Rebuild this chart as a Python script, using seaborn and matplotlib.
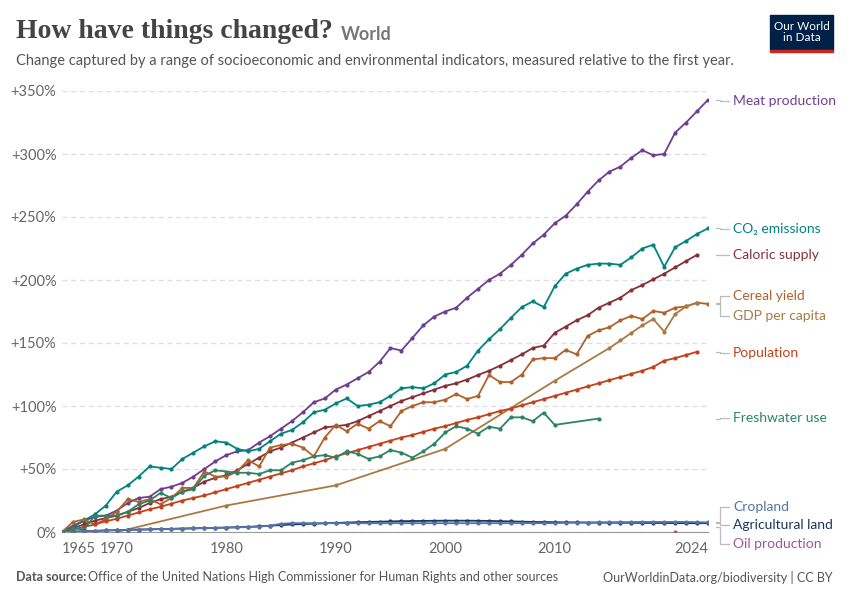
import numpy as np
import pandas as pd
import matplotlib.pyplot as plt
import seaborn as sns

# values (% change since first year)
meat_years = list(range(1965, 2025))
meat = [0, 5, 9, 12, 13, 17, 23, 27, 28, 34, 36, 39, 44, 50, 56, 61, 64, 65, 71, 76,
        82, 88, 95, 103, 106, 113, 117, 122, 127, 135, 146, 144, 154, 164, 171, 175, 178, 186, 193, 200,
        205, 212, 220, 229, 236, 245, 251, 260, 270, 279, 286, 290, 297, 303, 299, 300, 317, 325, 334, 343]

co2_years = list(range(1965, 2025))
co2 = [0, 4, 9, 14, 21, 32, 37, 44, 52, 51, 50, 58, 63, 68, 72, 71, 66, 64, 66, 72,
       78, 81, 87, 95, 97, 102, 106, 100, 101, 103, 108, 114, 115, 114, 118, 125, 127, 132, 144, 153,
       161, 170, 178.5, 183, 178.5, 195, 205, 209, 212, 213, 213, 212, 218, 225, 228, 210.5, 226, 231, 236.5, 241]

cal_years = list(range(1965, 2024))
caloric = [0, 3, 6, 9, 11, 13, 16, 19, 23, 26, 28, 32, 35, 40, 43, 45, 49, 54, 59, 64,
           67, 71, 75, 79, 83, 84, 85, 88, 92, 96, 100, 104, 107, 110, 113, 116, 118, 121, 124.6, 128,
           132, 136.5, 141, 146, 148, 158, 163, 168, 172, 178, 182, 186, 192, 196, 200.5, 205, 210, 215, 220]

cereal_years = list(range(1965, 2025))
cereal = [0, 8, 10, 6, 10, 16, 26, 24, 26, 22, 27, 35, 35, 48, 44, 44, 48, 57, 52, 67,
          69, 70, 67, 60, 75, 85, 80, 86, 82, 88, 84, 96, 100, 103, 103, 105, 109.5, 105.5, 108, 124.6,
          119, 119, 125, 137, 138, 138, 144.5, 141, 155.5, 160, 162.5, 168, 171.5, 169, 175.4, 174, 178, 179, 182, 181]

gdp_years = [1970, 1980, 1990, 2000, 2010, 2015, 2016, 2017, 2018, 2019, 2020, 2021, 2022, 2023]
gdp = [0, 21, 37, 66, 120, 146, 152, 158, 164, 169, 159, 173, 179, 182]

pop_years = list(range(1965, 2024))
population = [0, 2, 4, 6, 8.5, 10.5, 13, 15.5, 18, 20, 22.5, 25, 27, 29, 31.5, 34, 36.5, 39, 41.5, 44,
              46.5, 49, 52, 54.5, 57, 60, 62.5, 65, 67.5, 70, 72.5, 75, 77, 79.5, 82, 84, 86.5, 89, 91, 93.5,
              96, 98, 100.5, 103, 105.5, 108, 110.5, 113, 115.5, 118, 120.5, 123, 125.5, 128, 131, 136, 138, 140.5, 143]

fresh_years = list(range(1965, 2011)) + [2014]
freshwater = [0, 3, 2, 13, 13, 13, 16, 22, 25, 31, 27, 32, 34, 44.6, 49, 48, 47, 47, 46, 49,
              49, 55, 57, 60, 61, 59, 64, 62, 58, 60, 65, 63, 59, 64, 70, 79, 84, 82, 78, 83.6,
              82, 91, 91, 88, 94.7, 85, 90]

land_years = list(range(1965, 2025))
cropland = [0, 0.3, 0.6, 0.9, 1.2, 1.5, 1.7, 1.9, 2.1, 2.3, 2.5, 2.7, 2.9, 3.1, 3.3, 3.5, 3.7, 3.9, 4.3, 5,
            6.5, 7, 7, 7, 7, 7, 7, 7, 7, 7, 7, 7, 7, 7, 7, 7, 7, 7, 7, 7,
            7, 7, 7, 7, 7, 7, 7.3, 7.5, 7.5, 7.6, 7.7, 7.8, 7.9, 8, 8, 8, 8, 8, 7.8, 7.6]
agland = [0, 0.3, 0.6, 0.9, 1.2, 1.5, 1.7, 1.9, 2.1, 2.3, 2.5, 2.7, 2.9, 3.1, 3.3, 3.5, 3.8, 4.1, 4.5, 5,
          5.5, 6, 6.3, 6.6, 6.9, 7.2, 7.5, 7.8, 8, 8.2, 8.4, 8.6, 8.7, 8.8, 8.9, 9, 9, 9, 8.9, 8.8,
          8.6, 8.4, 8.2, 8, 7.9, 7.8, 7.7, 7.6, 7.5, 7.4, 7.4, 7.3, 7.3, 7.2, 7.2, 7.1, 7.1, 7, 7, 7]

oil_years = [2021]
oil = [0]

series = [
    ("Meat production", meat_years, meat, "#6d3e91", 101),
    ("CO₂ emissions", co2_years, co2, "#00847e", 229),
    ("Caloric supply", cal_years, caloric, "#883039", 255),
    ("Cereal yield", cereal_years, cereal, "#b0622c", 296),
    ("GDP per capita", gdp_years, gdp, "#a87a45", 316),
    ("Population", pop_years, population, "#c4401a", 353),
    ("Freshwater use", fresh_years, freshwater, "#2c8465", 418),
    ("Agricultural land", land_years, agland, "#18375f", 525),
    ("Cropland", land_years, cropland, "#5673a8", 507),
    ("Oil production", oil_years, oil, "#a2559c", 544),
]

sns.set_style("white")
plt.rcParams["font.family"] = ["Lato", "DejaVu Sans"]

fig = plt.figure(figsize=(8.5, 6), dpi=100)
ax = fig.add_axes([62 / 850, 1 - 532 / 600, (708 - 62) / 850, (532 - 91) / 600])

for name, yrs, vals, col, ly in series:
    sns.lineplot(x=yrs, y=vals, ax=ax, color=col, lw=1.3, marker="o", markersize=3,
                 markeredgewidth=0, zorder=3)

ax.set_xlim(1965, 2024)
ax.set_ylim(0, 350)
yt = list(range(0, 351, 50))
ax.set_yticks(yt)
ax.set_yticklabels(["0%"] + ["+%d%%" % v for v in yt[1:]], color="#666666", fontsize=10.5)
ax.yaxis.grid(True, ls=(0, (4, 3)), color="#dddddd", lw=0.9)
ax.set_xticks([1965, 1970, 1980, 1990, 2000, 2010, 2024])
ax.set_xticklabels(["1965", "1970", "1980", "1990", "2000", "2010", "2024"], color="#666666", fontsize=10.5)
xl = ax.get_xticklabels()
xl[0].set_ha("left")
xl[-1].set_ha("right")
ax.tick_params(axis="y", length=0, pad=4)
ax.tick_params(axis="x", length=4, color="#999999", pad=3)
for s in ["top", "right", "left"]:
    ax.spines[s].set_visible(False)
ax.spines["bottom"].set_color("#999999")

def py(p):
    return 350 * (532 - p) / (532 - 91)

# labels on right with elbow connectors
for name, yrs, vals, col, ly in series:
    ty = py(ly)
    ax.text(2026.3, ty, name, color=col, fontsize=10, va="center", ha="left", clip_on=False)
    y0 = vals[-1] if name != "Oil production" else 4
    ax.plot([2024.7, 2025.1, 2025.1, 2025.9], [y0, y0, ty, ty],
            color="#bbbbbb", lw=0.9, clip_on=False)

title = fig.text(16 / 850, 1 - 32 / 600, "How have things changed?", family="Liberation Serif",
                 fontsize=20, color="#444444", va="center", weight="bold")
fig.canvas.draw()
tb = title.get_window_extent()
fig.text((tb.x1 + 8) / 850, 1 - 34 / 600, "World", fontsize=13, color="#777777", va="center", weight="bold")
fig.text(16 / 850, 1 - 61 / 600,
         "Change captured by a range of socioeconomic and environmental indicators, measured relative to the first year.",
         fontsize=10.5, color="#555555", va="center")
fig.patches.append(plt.Rectangle((770 / 850, 1 - 50 / 600), 63 / 850, 35 / 600,
                                 transform=fig.transFigure, color="#002147"))
fig.patches.append(plt.Rectangle((770 / 850, 1 - 52 / 600), 63 / 850, 2.5 / 600,
                                 transform=fig.transFigure, color="#ce261e"))
fig.text(801.5 / 850, 1 - 32 / 600, "Our World\nin Data", color="white", fontsize=8.5,
         ha="center", va="center", linespacing=1.1)
fig.text(16 / 850, 1 - 577 / 600, "Data source:", fontsize=9, color="#555555", weight="bold", va="center")
fig.text(88 / 850, 1 - 577 / 600, "Office of the United Nations High Commissioner for Human Rights and other sources",
         fontsize=9, color="#555555", va="center")
fig.text(833 / 850, 1 - 577 / 600, "OurWorldinData.org/biodiversity | CC BY", fontsize=9,
         color="#555555", va="center", ha="right")

fig.savefig("out.png", dpi=100)
